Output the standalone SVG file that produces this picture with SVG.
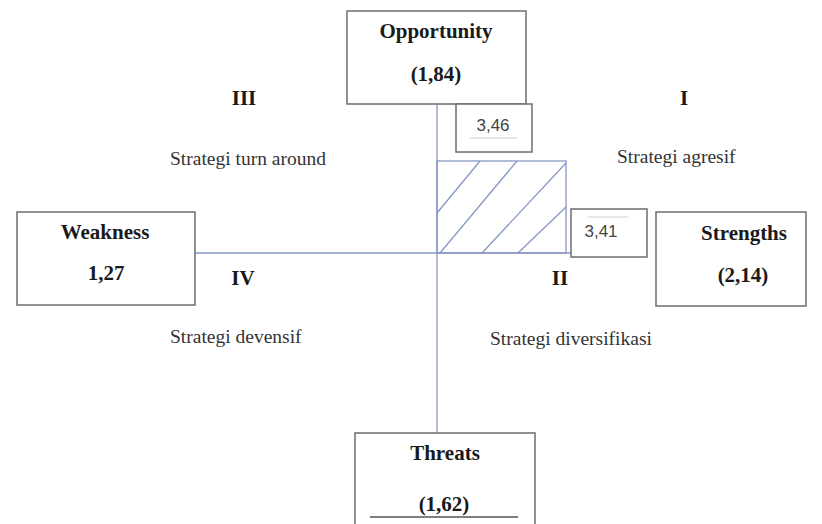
<svg xmlns="http://www.w3.org/2000/svg" width="822" height="524" viewBox="0 0 822 524">
<style>
.box{fill:#fff;stroke:#6e6e6e;stroke-width:1.5}
.axis{stroke:#8797c6;stroke-width:1.3;fill:none}
.b{font-family:"Liberation Serif","Times New Roman",serif;font-weight:bold;font-size:21px;fill:#1a1a1a;text-anchor:middle}
.r{font-family:"Liberation Serif","Times New Roman",serif;font-size:19.5px;fill:#333}
.num{font-family:"Liberation Sans",Arial,sans-serif;font-size:17px;fill:#444;text-anchor:middle}
.faint{stroke:#cfcfcf;stroke-width:1}
</style>
<rect width="822" height="524" fill="#fff"/>
<g id="connectors">
<line class="axis" x1="437" y1="104" x2="437" y2="433"/>
<line class="axis" x1="195" y1="253" x2="571" y2="253"/>
</g>
<g id="hatch">
<rect class="axis" x="437" y="161" width="129" height="92"/>
<line class="axis" x1="437" y1="213" x2="480" y2="161"/>
<line class="axis" x1="440" y1="253" x2="517" y2="161"/>
<line class="axis" x1="482" y1="253" x2="566" y2="163"/>
<line class="axis" x1="518" y1="253" x2="566" y2="207"/>
</g>
<g id="opportunity">
<rect class="box" x="347" y="11" width="179" height="93"/>
<text class="b" x="436" y="38">Opportunity</text>
<text class="b" x="436" y="81">(1,84)</text>
</g>
<g id="val346">
<rect class="box" x="456" y="104" width="76" height="48"/>
<text class="num" x="493" y="131">3,46</text>
<line class="faint" x1="470" y1="138" x2="517" y2="138"/>
</g>
<g id="val341">
<rect class="box" x="571" y="209" width="76" height="48"/>
<line class="faint" x1="588" y1="217" x2="628" y2="217"/>
<text class="num" x="601" y="237">3,41</text>
</g>
<g id="weakness">
<rect class="box" x="17" y="212" width="178" height="93"/>
<text class="b" x="105" y="239">Weakness</text>
<text class="b" x="106" y="280">1,27</text>
</g>
<g id="strengths">
<rect class="box" x="656" y="212" width="150" height="94"/>
<text class="b" x="744" y="240">Strengths</text>
<text class="b" x="743" y="282">(2,14)</text>
</g>
<g id="threats">
<rect class="box" x="355" y="433" width="180" height="100"/>
<text class="b" x="445" y="460">Threats</text>
<text class="b" x="444" y="511">(1,62)</text>
<line stroke="#555" stroke-width="1.3" x1="370" y1="517" x2="518" y2="517"/>
</g>
<g id="quadrants">
<text class="b" x="244" y="105">III</text>
<text class="r" x="170" y="165">Strategi turn around</text>
<text class="b" x="684" y="105">I</text>
<text class="r" x="617" y="163">Strategi agresif</text>
<text class="b" x="243" y="285">IV</text>
<text class="r" x="170" y="343">Strategi devensif</text>
<text class="b" x="560" y="285">II</text>
<text class="r" x="490" y="345">Strategi diversifikasi</text>
</g>
</svg>
